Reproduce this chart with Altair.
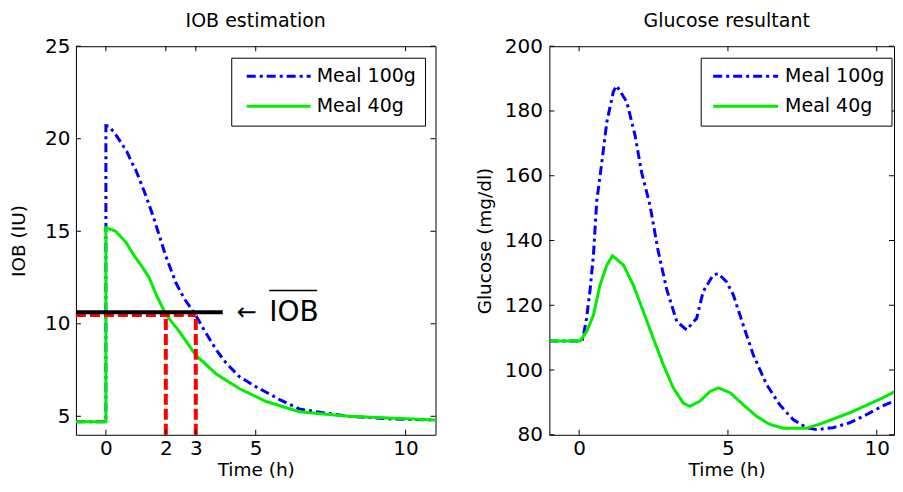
import altair as alt
import pandas as pd

FONT = "DejaVu Sans"

# ---------------- data ----------------
series_names = ["Meal 100g", "Meal 40g"]
series_colors = ["#0000ff", "#00ee00"]

# IOB estimation
iob_t_100 = [-1, 0, 0, 0.1, 0.3, 0.54, 0.7, 0.87, 1.0, 1.34, 1.6, 2.0, 2.34, 2.6, 3.0, 3.3, 3.68, 4.0, 4.45, 5.0, 5.35, 5.8, 6.45, 7.2, 8.1, 9.6, 11]
iob_v_100 = [4.7, 4.7, 20.7, 20.68, 20.3, 19.7, 19.3, 18.7, 18.3, 16.9, 15.7, 13.65, 12.2, 11.4, 10.45, 9.6, 8.6, 7.9, 7.15, 6.6, 6.3, 5.9, 5.4, 5.2, 5.0, 4.85, 4.8]
iob_t_40 = [-1, 0, 0, 0.33, 0.67, 0.9, 1.0, 1.2, 1.44, 1.7, 2.0, 2.44, 3.0, 3.67, 4.45, 5.35, 6.45, 8.1, 11]
iob_v_40 = [4.7, 4.7, 15.2, 15.0, 14.4, 13.8, 13.55, 13.1, 12.5, 11.5, 10.5, 9.6, 8.3, 7.3, 6.5, 5.8, 5.25, 5.0, 4.8]

# Glucose resultant
glu_t_100 = [-1, 0.1, 0.14, 0.25, 0.37, 0.48, 0.59, 0.76, 0.93, 1.15, 1.26, 1.6, 1.88, 2.1, 2.38, 2.65, 2.94, 3.28, 3.61, 3.95, 4.17, 4.5, 4.67, 4.95, 5.18, 5.51, 5.85, 6.3, 6.74, 7.19, 7.64, 7.98, 8.53, 9.09, 9.65, 10.2, 10.85]
glu_v_100 = [109, 109, 110.5, 116, 125, 135.5, 152, 164, 176.6, 186, 187.8, 182.8, 172.4, 161, 150.9, 137, 125, 115, 112.4, 116, 124.3, 129.3, 129.8, 127.3, 123.2, 114, 104.7, 95.5, 89.3, 84.7, 82.2, 81.6, 82.2, 83.7, 86.2, 88.9, 91.4]
glu_t_40 = [-1, 0.03, 0.26, 0.48, 0.7, 0.93, 1.12, 1.49, 1.82, 2.16, 2.49, 2.83, 3.16, 3.5, 3.72, 4.06, 4.4, 4.67, 5.07, 5.51, 5.96, 6.41, 6.86, 7.64, 8.2, 9.09, 10.2, 10.85]
glu_v_40 = [109, 109, 112, 117, 126.2, 132.4, 135.3, 132.4, 126.2, 118, 109.8, 101.6, 94.5, 89.8, 88.8, 90.4, 93.4, 94.5, 93, 89.3, 85.7, 83.2, 82, 82, 83.7, 86.8, 91.4, 94.5]

iob_xticks = [0, 2, 3, 5, 10]
iob_yticks = [5, 10, 15, 20, 25]
glu_xticks = [0, 5, 10]
glu_yticks = [80, 100, 120, 140, 160, 180, 200]

iob_bar_level = 10.62      # mean IOB line
iob_bar_end = 3.9
cross_level = 10.5         # red dashed level
cross_times = [2, 3]
arrow_pos = (4.7, 10.57)
label_pos = (5.45, 10.57)
overline = (5.45, 7.05, 11.8)

DASHDOT = [9, 4, 3, 4]


def make_df(t, v):
    return pd.DataFrame({"x": t, "y": v, "i": list(range(len(t)))})


def panel(title, xdom, ydom, xticks, yticks, ytitle, series, W, H,
          legend_px, ylab_pad, ytitle_pad, extra=None, shift=0):
    xs = alt.Scale(domain=xdom, nice=False, zero=False)
    ys = alt.Scale(domain=ydom, nice=False, zero=False)
    xax = alt.Axis(values=xticks, title="Time (h)", labelPadding=4, titlePadding=2,
                   labelOverlap=False, labelFlush=False, titleX=W / 2 + shift)
    yax = alt.Axis(values=yticks, title=ytitle, labelPadding=ylab_pad,
                   titlePadding=ytitle_pad, labelOverlap=False, labelFlush=False)

    def X(f="x"):
        return alt.X(f"{f}:Q", scale=xs, axis=xax)

    def Y(f="y"):
        return alt.Y(f"{f}:Q", scale=ys, axis=yax)

    layers = []
    for (t, v), color, dash in zip(series, series_colors, [DASHDOT, None]):
        kw = dict(color=color, strokeWidth=3, strokeCap="butt", clip=True)
        if dash:
            kw["strokeDash"] = dash
        layers.append(alt.Chart(make_df(t, v)).mark_line(**kw).encode(
            x=X(), y=Y(), order=alt.Order("i:Q")))

    if extra:
        layers.extend(extra(X, Y))

    # inward ticks on all four sides
    xt = pd.DataFrame({"x": xticks})
    yt = pd.DataFrame({"y": yticks})
    tick = dict(color="black", strokeWidth=1)
    layers.append(alt.Chart(xt).mark_rule(**tick).encode(x=X(), y=alt.value(H), y2=alt.value(H - 5)))
    layers.append(alt.Chart(xt).mark_rule(**tick).encode(x=X(), y=alt.value(0), y2=alt.value(5)))
    layers.append(alt.Chart(yt).mark_rule(**tick).encode(y=Y(), x=alt.value(0), x2=alt.value(5)))
    layers.append(alt.Chart(yt).mark_rule(**tick).encode(y=Y(), x=alt.value(W), x2=alt.value(W - 5)))

    # legend box
    bx0, bx1, lx0, lx1, tx = legend_px
    one = pd.DataFrame({"a": [0]})
    layers.append(alt.Chart(one).mark_rect(fill="white", stroke="black", strokeWidth=1).encode(
        x=alt.value(bx0), x2=alt.value(bx1), y=alt.value(12), y2=alt.value(80)))
    for k, (name, color, dash) in enumerate(zip(series_names, series_colors, [DASHDOT, None])):
        yy = 30 + 30 * k
        kw = dict(color=color, strokeWidth=3, strokeCap="butt")
        if dash:
            kw["strokeDash"] = dash
        layers.append(alt.Chart(one).mark_rule(**kw).encode(
            x=alt.value(lx0), x2=alt.value(lx1), y=alt.value(yy)))
        layers.append(alt.Chart(pd.DataFrame({"label": [name]})).mark_text(
            align="left", baseline="middle", font=FONT, fontSize=19, color="black").encode(
            x=alt.value(tx), y=alt.value(yy), text="label:N"))

    return alt.layer(*layers).properties(
        width=W, height=H,
        title=alt.TitleParams(title, font=FONT, fontSize=19, fontWeight="normal",
                              color="black", offset=5, dx=shift))


def iob_extra(X, Y):
    out = []
    red = pd.DataFrame({"x": [-1], "x2": [max(cross_times)], "y": [cross_level]})
    out.append(alt.Chart(red).mark_rule(color="#ff0000", strokeWidth=5, strokeDash=[10, 4]).encode(
        x=X(), x2=alt.X2("x2:Q"), y=Y()))
    vert = pd.DataFrame({"x": cross_times, "y": [4] * len(cross_times), "y2": [cross_level] * len(cross_times)})
    out.append(alt.Chart(vert).mark_rule(color="#ff0000", strokeWidth=4, strokeDash=[11, 4]).encode(
        x=X(), y=Y(), y2=alt.Y2("y2:Q")))
    bar = pd.DataFrame({"x": [-1], "x2": [iob_bar_end], "y": [iob_bar_level]})
    out.append(alt.Chart(bar).mark_rule(color="black", strokeWidth=4).encode(
        x=X(), x2=alt.X2("x2:Q"), y=Y()))
    arr = pd.DataFrame({"x": [arrow_pos[0]], "y": [arrow_pos[1]], "t": ["←"]})
    out.append(alt.Chart(arr).mark_text(font="DejaVu Sans", fontSize=24, color="black",
                                        baseline="middle", align="center").encode(
        x=X(), y=Y(), text="t:N"))
    lab = pd.DataFrame({"x": [label_pos[0]], "y": [label_pos[1]], "t": ["IOB"]})
    out.append(alt.Chart(lab).mark_text(font=FONT, fontSize=28, color="black",
                                        baseline="middle", align="left").encode(
        x=X(), y=Y(), text="t:N"))
    ov = pd.DataFrame({"x": [overline[0]], "x2": [overline[1]], "y": [overline[2]]})
    out.append(alt.Chart(ov).mark_rule(color="black", strokeWidth=1.5).encode(
        x=X(), x2=alt.X2("x2:Q"), y=Y()))
    return out


left = panel("IOB estimation", [-1, 11], [4, 25], iob_xticks, iob_yticks, "IOB (IU)",
             [(iob_t_100, iob_v_100), (iob_t_40, iob_v_40)], 360, 389,
             (156, 350, 171, 235, 241), 6, 16, iob_extra)
right = panel("Glucose resultant", [-1, 10.58], [80, 200], glu_xticks, glu_yticks, "Glucose (mg/dl)",
              [(glu_t_100, glu_v_100), (glu_t_40, glu_v_40)], 345, 389,
              (152, 343, 164, 229, 236), 7, 10, shift=5)

chart = alt.hconcat(left, right, spacing=38).configure(
    padding={"left": 1, "top": 3, "right": 0, "bottom": 0}
).configure_view(stroke="black", strokeWidth=1).configure_axis(
    domain=False, ticks=False, grid=False,
    labelFont=FONT, labelFontSize=20, labelColor="black",
    titleFont=FONT, titleFontSize=18.5, titleFontWeight="normal", titleColor="black"
)

chart.save("out.html", embed_options={"renderer": "svg", "actions": False})
